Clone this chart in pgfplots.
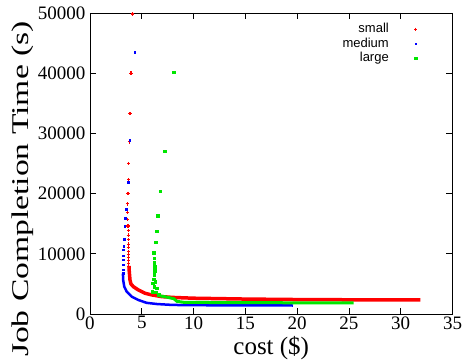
\documentclass[border=0pt]{standalone}
\usepackage{fontspec}
\setmainfont{Liberation Serif}
\setsansfont{Liberation Sans}
\usepackage{pgfplots}
\pgfplotsset{compat=1.18}
\definecolor{gred}{RGB}{255,0,0}
\definecolor{gblue}{RGB}{0,0,255}
\definecolor{ggreen}{RGB}{0,230,0}
\pgfplotsset{lgimg/.style={legend image code/.code={\path[draw=none,fill=none] (0pt,0pt) -- (30pt,0pt); \draw plot coordinates {(26pt,0pt)};}}}
\begin{document}
\begin{tikzpicture}
\begin{axis}[
  name=ax,
  scale only axis,
  width=362.5pt, height=301pt,
  xmin=0, xmax=35, ymin=0, ymax=50000,
  xtick={0,5,...,35}, ytick={0,10000,...,50000},
  scaled y ticks=false,
  tick pos=both, tick align=inside,
  major tick length=6pt,
  axis line style={line width=0.9pt},
  every tick/.style={black, line width=0.8pt},
  /pgf/number format/assume math mode=true,
  /pgf/number format/1000 sep={},
  xticklabel={\rmfamily\pgfmathprintnumber[assume math mode=true]{\tick}},
  yticklabel={\rmfamily\pgfmathprintnumber[assume math mode=true]{\tick}},
  tick label style={font=\rmfamily\fontsize{19}{19}\selectfont},
  xticklabel style={yshift=1pt},
  yticklabel style={xshift=-1pt},
  xlabel={cost (\$)},
  xlabel style={font=\fontsize{25}{25}\selectfont, at={(axis description cs:0.5,-0.136)}, anchor=base},
  ylabel={\scalebox{1.4}[1]{Job Completion Time (s)}},
  ylabel style={font=\fontsize{24}{24}\selectfont, at={(axis description cs:-0.186,0.415)}, anchor=center, rotate=0},
  legend plot pos=right,
  legend cell align=right,
  legend style={at={(axis description cs:0.9186,0.977)}, anchor=north east, draw=none, fill=none,
    font=\sffamily\fontsize{13}{13}\selectfont, row sep=0pt, column sep=0pt,
    nodes={inner sep=1pt, text height=9.5pt, text depth=3pt}},
  clip=true,
]
% small (red)
\addplot[only marks, lgimg, mark=+, mark size=1.7pt, gred, line width=1.1pt] coordinates {
(4.12,49830) (3.96,40000) (3.86,33280) (3.79,28600) (3.74,25000) (3.74,22300)
(3.67,20050) (3.64,18280) (3.64,16880) (3.64,15670) (3.67,14610) (3.70,13830)
(3.70,13110) (3.74,12330) (3.74,11610) (3.70,11000) (3.72,10400) (3.70,9900)
(3.72,9400) (3.74,8900) (3.74,8400) (3.76,7900)
};
\addlegendentry{small}
\addplot[gred, line width=3.5pt, forget plot] coordinates {
(3.76,8000) (3.78,7300) (3.82,6500) (3.86,5670) (3.95,5000) (4.18,4550) (4.66,4000)
(5.3,3450) (5.95,3170) (6.92,2890) (8,2750) (10,2620) (15,2480) (20,2400) (25,2360) (31.9,2340)
};
% medium (blue)
\addplot[only marks, lgimg, mark=square*, mark size=0.8pt, gblue] coordinates {
(4.31,43450) (3.83,28900) (3.67,21900) (3.47,17450) (3.38,15950) (3.36,14560)
(3.28,12450) (3.25,11220) (3.22,10670) (3.18,9670) (3.18,9000) (3.18,8170)
(3.18,7330) (3.18,6780)
};
\addlegendentry{medium}
\addplot[gblue, line width=2.5pt, forget plot] coordinates {
(3.18,6700) (3.2,5670) (3.31,4550) (3.54,3720) (4.02,2890) (4.66,2330) (5.47,1850)
(6.5,1650) (8,1500) (12,1440) (16,1420) (19.6,1410)
};
% large (green)
\addplot[only marks, lgimg, mark=square*, mark size=1.3pt, ggreen] coordinates {
(8.08,40150) (7.21,27050) (6.79,20400) (6.53,16350) (6.42,13720) (6.35,11920)
(6.15,10220) (6.2,9280) (6.21,8500) (6.24,7880) (6.27,7220) (6.21,6480)
(6.15,5800) (6.31,5380) (6.05,5110) (6.18,4550) (6.44,4300) (6.0,3720)
(6.37,3620) (6.63,3170)
};
\addlegendentry{large}
\addplot[ggreen, line width=3pt, forget plot] coordinates {
(6.63,3170) (6.8,3000) (7.28,2850) (8.08,2550) (8.4,2100) (9,1950) (12,1900)
(16,1880) (20,1860) (25.45,1850)
};
\end{axis}
\pgfresetboundingbox
\path[use as bounding box] ([xshift=-90pt,yshift=-50pt]ax.south west) rectangle ([xshift=13.5pt,yshift=13pt]ax.north east);
\end{tikzpicture}
\end{document}
